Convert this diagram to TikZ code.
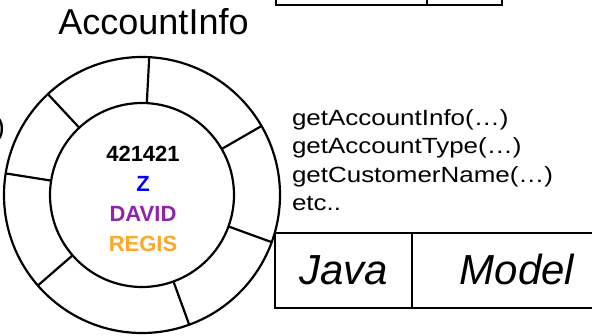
\documentclass[tikz,border=0pt]{standalone}
\usepackage{fontspec}
\setmainfont{Liberation Sans}
\newfontfamily\widesans[FakeStretch=1.18]{Liberation Sans}
\definecolor{zblue}{RGB}{0,0,255}
\definecolor{davidpurple}{RGB}{142,36,170}
\definecolor{regisorange}{RGB}{255,167,38}
\begin{document}
\begin{tikzpicture}[x=1pt,y=-1pt,line width=2.2pt,
  ring/.style={circle,draw,inner sep=0pt,outer sep=0pt,minimum size=#1},
  txt/.style={inner sep=0pt,outer sep=0pt},
  fieldtxt/.style={txt,anchor=base,font=\fontsize{22}{26}\selectfont\bfseries},
  methodtxt/.style={txt,anchor=base west,font=\widesans\fontsize{22}{26}\selectfont},
  labeltxt/.style={txt,anchor=base,font=\fontsize{42}{48}\selectfont\itshape}]
\useasboundingbox (0,0) rectangle (592,336);

% partly visible box above
\draw (276,-10) rectangle (427,5);
\draw (427,-10) rectangle (502,5);

% left edge: end of a cut-off call
\node[txt,anchor=base east,font=\fontsize{28}{32}\selectfont] (paren) at (5,137) {)};

% title of the object
\node[txt,anchor=base,font=\fontsize{36}{40}\selectfont] (title) at (153.5,35) {AccountInfo};

% the object: outer ring of methods around the data core
\node[ring=276pt] (outer) at (142,195) {};
\node[ring=184pt] (inner) at (142,195) {};
\foreach \a in {87.5,133.5,171.7,221.8,290,340.6,30.5}
  \draw (inner.\a) -- (outer.\a);

% data held in the core
\node[fieldtxt] (f1) at (143,162) {421421};
\node[fieldtxt,text=zblue] (f2) at (143,192) {Z};
\node[fieldtxt,text=davidpurple] (f3) at (143,222) {DAVID};
\node[fieldtxt,text=regisorange] (f4) at (143,252) {REGIS};

% methods
\node[methodtxt] (m1) at (292,126) {getAccountInfo(…)};
\node[methodtxt] (m2) at (292,154) {getAccountType(…)};
\node[methodtxt] (m3) at (292,183) {getCustomerName(…)};
\node[methodtxt] (m4) at (292,211) {etc..};

% Java / Model label box
\draw (275,233) rectangle (412,308);
\draw (412,233) rectangle (622,308);
\node[labeltxt] (java) at (343.5,285) {Java};
\node[labeltxt] (model) at (517,285) {Model};
\end{tikzpicture}
\end{document}
